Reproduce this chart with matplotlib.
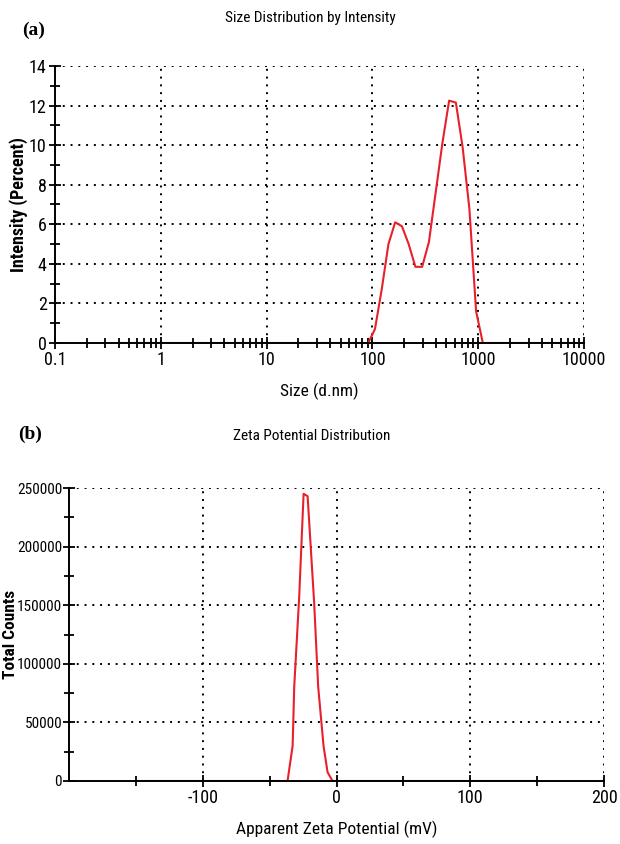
import matplotlib
matplotlib.use("Agg")
import matplotlib.pyplot as plt
from matplotlib import font_manager
from matplotlib.ticker import FixedLocator, NullFormatter, LogLocator

# pick a condensed sans family (regular weight available) if one is installed
names = {f.name for f in font_manager.fontManager.ttflist}
preferred = ['Liberation Sans Narrow', 'Arial Narrow', 'Noto Sans Condensed',
             'Roboto Condensed', 'Open Sans Condensed', 'DejaVu Sans Condensed']
narrow = next((n for n in preferred if n in names), None)
if narrow is None:
    bad = ('light', 'thin', 'extra', 'semi', 'medium', 'black', 'ultra', 'demi')
    cands = sorted(n for n in names
                   if ('narrow' in n.lower() or 'condensed' in n.lower())
                   and not any(b in n.lower() for b in bad))
    narrow = cands[0] if cands else None
fam = ([narrow] if narrow else []) + ['Liberation Sans', 'DejaVu Sans']
plt.rcParams['font.family'] = fam

# ---- data (a) size distribution by intensity ----
size_nm = [0.4, 91.3, 105.7, 122.4, 141.8, 164.2, 190.1, 220.2, 255.0, 295.3,
           342.0, 396.1, 458.7, 531.2, 615.1, 712.4, 825.0, 955.4, 1106.0, 10000.0]
intensity_pct = [0.0, 0.0, 0.7, 2.7, 5.0, 6.1, 5.9, 5.0, 3.85, 3.85,
                 5.1, 7.6, 10.1, 12.25, 12.15, 9.9, 6.8, 1.6, 0.0, 0.0]

# ---- data (b) zeta potential distribution ----
zeta_mv = [-150, -36.6, -32.8, -31.6, -27.9, -24.6, -21.6, -16.7, -13.7, -9.7, -6.7, -3.0, 150]
total_counts = [0, 0, 30000, 80500, 157000, 245000, 243000, 152000, 80500, 30000, 7600, 0, 0]

size_xticks = [0.1, 1, 10, 100, 1000, 10000]
size_xticklabels = ['0.1', '1', '10', '100', '1000', '10000']
int_yticks = [0, 2, 4, 6, 8, 10, 12, 14]
zeta_xticks = [-100, 0, 100, 200]
zeta_yticks = [0, 50000, 100000, 150000, 200000, 250000]

W, H = 620, 844
fig = plt.figure(figsize=(W / 100, H / 100), dpi=100)


def px_axes(l, t, r, b):
    return fig.add_axes([l / W, 1 - b / H, (r - l) / W, (b - t) / H])


red = '#e8202a'
grid_kw = dict(color='black', linestyle=(0, (1, 3)), linewidth=1.4)


def style(ax, ysize, ypad):
    for s in ['top', 'right']:
        ax.spines[s].set_visible(False)
    for s in ['left', 'bottom']:
        ax.spines[s].set_linewidth(1.4)
        ax.spines[s].set_zorder(4)
    ax.tick_params(which='major', direction='inout', length=8, width=1.3, labelsize=13, pad=2)
    ax.tick_params(axis='y', which='major', labelsize=ysize, pad=ypad)
    ax.tick_params(which='minor', direction='inout', length=7, width=1.3)
    ax.set_axisbelow(False)


# ---------- (a) ----------
ax1 = px_axes(55, 66, 584, 343)
ax1.plot(size_nm, intensity_pct, color=red, lw=1.5, zorder=3)
ax1.set_xscale('log')
ax1.set_xlim(0.1, 10000)
ax1.set_ylim(0, 14)
ax1.set_xticks(size_xticks)
ax1.set_xticklabels(size_xticklabels)
ax1.xaxis.set_minor_locator(LogLocator(base=10, subs=range(2, 10)))
ax1.xaxis.set_minor_formatter(NullFormatter())
ax1.set_yticks(int_yticks)
ax1.yaxis.set_minor_locator(FixedLocator(range(1, 14, 2)))
style(ax1, 13, 2)
for v in size_xticks[1:]:
    ax1.axvline(v, **grid_kw, zorder=1)
for v in int_yticks[1:]:
    ax1.axhline(v, **grid_kw, zorder=1)
ax1.set_xlabel('Size (d.nm)', fontsize=12.5, labelpad=10)
ax1.set_ylabel('Intensity (Percent)', fontsize=13, fontweight='bold')
ax1.yaxis.set_label_coords(28 / W, 1 - 205 / H, transform=fig.transFigure)

fig.text(310 / W, 1 - 18 / H, 'Size Distribution by Intensity', ha='center', va='center', fontsize=11)
fig.text(22 / W, 1 - 30 / H, '(a)', ha='left', va='center', fontsize=14, fontweight='bold',
         family=['Liberation Serif', 'DejaVu Serif'])

# ---------- (b) ----------
ax2 = px_axes(69, 488, 604, 781)
ax2.plot(zeta_mv, total_counts, color=red, lw=1.5, zorder=3)
ax2.set_xlim(-200, 200)
ax2.set_ylim(0, 250000)
ax2.set_xticks(zeta_xticks)
ax2.set_xticklabels([str(v) for v in zeta_xticks])
ax2.xaxis.set_minor_locator(FixedLocator([-150, -50, 50, 150]))
ax2.set_yticks(zeta_yticks)
ax2.set_yticklabels([str(v) for v in zeta_yticks])
ax2.yaxis.set_minor_locator(FixedLocator([25000, 75000, 125000, 175000, 225000]))
style(ax2, 11, 1)
for v in zeta_xticks:
    ax2.axvline(v, **grid_kw, zorder=1)
for v in zeta_yticks[1:]:
    ax2.axhline(v, **grid_kw, zorder=1)
ax2.set_xlabel('Apparent Zeta Potential (mV)', fontsize=12.5, labelpad=10)
ax2.set_ylabel('Total Counts', fontsize=12.5, fontweight='bold')
ax2.yaxis.set_label_coords(18 / W, 1 - 634 / H, transform=fig.transFigure)

fig.text(312 / W, 1 - 436 / H, 'Zeta Potential Distribution', ha='center', va='center', fontsize=11)
fig.text(18 / W, 1 - 434 / H, '(b)', ha='left', va='center', fontsize=14, fontweight='bold',
         family=['Liberation Serif', 'DejaVu Serif'])

fig.savefig('out.png', dpi=100)
